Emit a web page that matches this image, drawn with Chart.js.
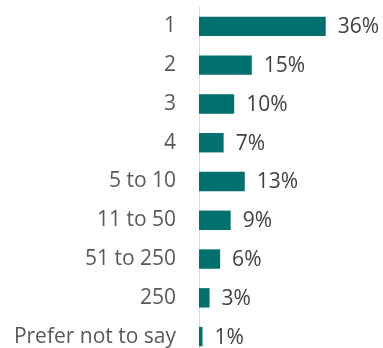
<!DOCTYPE html>
<html lang="en">
  <head>
    <meta charset="UTF-8" />
    <title>Company size</title>
    <style>
      html,
      body {
        margin: 0;
        padding: 0;
        background: #fff;
        overflow: hidden;
      }
      #wrap {
        position: relative;
        width: 383px;
        height: 356px;
      }
    </style>
  </head>
  <body>
    <div id="wrap"><canvas id="chart"></canvas></div>

    <script src="https://cdn.jsdelivr.net/npm/chart.js"></script>
    <script>
      const categories = [
        "1",
        "2",
        "3",
        "4",
        "5 to 10",
        "11 to 50",
        "51 to 250",
        "250",
        "Prefer not to say",
      ];
      const shares = [36, 15, 10, 7, 13, 9, 6, 3, 1];

      // values drawn at the end of each bar
      const valueLabels = {
        id: "valueLabels",
        afterDatasetsDraw(chart) {
          const ctx = chart.ctx;
          const meta = chart.getDatasetMeta(0);
          ctx.save();
          ctx.font = "21px 'Open Sans'";
          ctx.fillStyle = "#404040";
          ctx.textAlign = "left";
          ctx.textBaseline = "middle";
          meta.data.forEach((bar, i) => {
            ctx.fillText(shares[i] + "%", bar.x + 12, bar.y + 1);
          });
          ctx.restore();
        },
      };

      new Chart(document.getElementById("chart"), {
        type: "bar",
        data: {
          labels: categories,
          datasets: [
            {
              data: shares,
              backgroundColor: "#01706e",
              categoryPercentage: 1,
              barPercentage: 0.5,
            },
          ],
        },
        options: {
          indexAxis: "y",
          responsive: true,
          maintainAspectRatio: false,
          animation: false,
          layout: { padding: { top: 7, right: 8, bottom: 0, left: 0 } },
          plugins: {
            legend: { display: false },
            tooltip: { enabled: false },
          },
          scales: {
            x: {
              display: false,
              min: 0,
              max: 50,
            },
            y: {
              afterFit(scale) {
                scale.width = 199;
                // no extra room above/below for the tick labels
                scale.paddingTop = 0;
                scale.paddingBottom = 0;
              },
              grid: { display: false, drawTicks: false },
              border: { color: "#d9d9d9", width: 1 },
              ticks: {
                color: "#595959",
                padding: 23,
                font: { family: "'Open Sans'", size: 21 },
              },
            },
          },
        },
        plugins: [valueLabels],
      });
    </script>
  </body>
</html>
